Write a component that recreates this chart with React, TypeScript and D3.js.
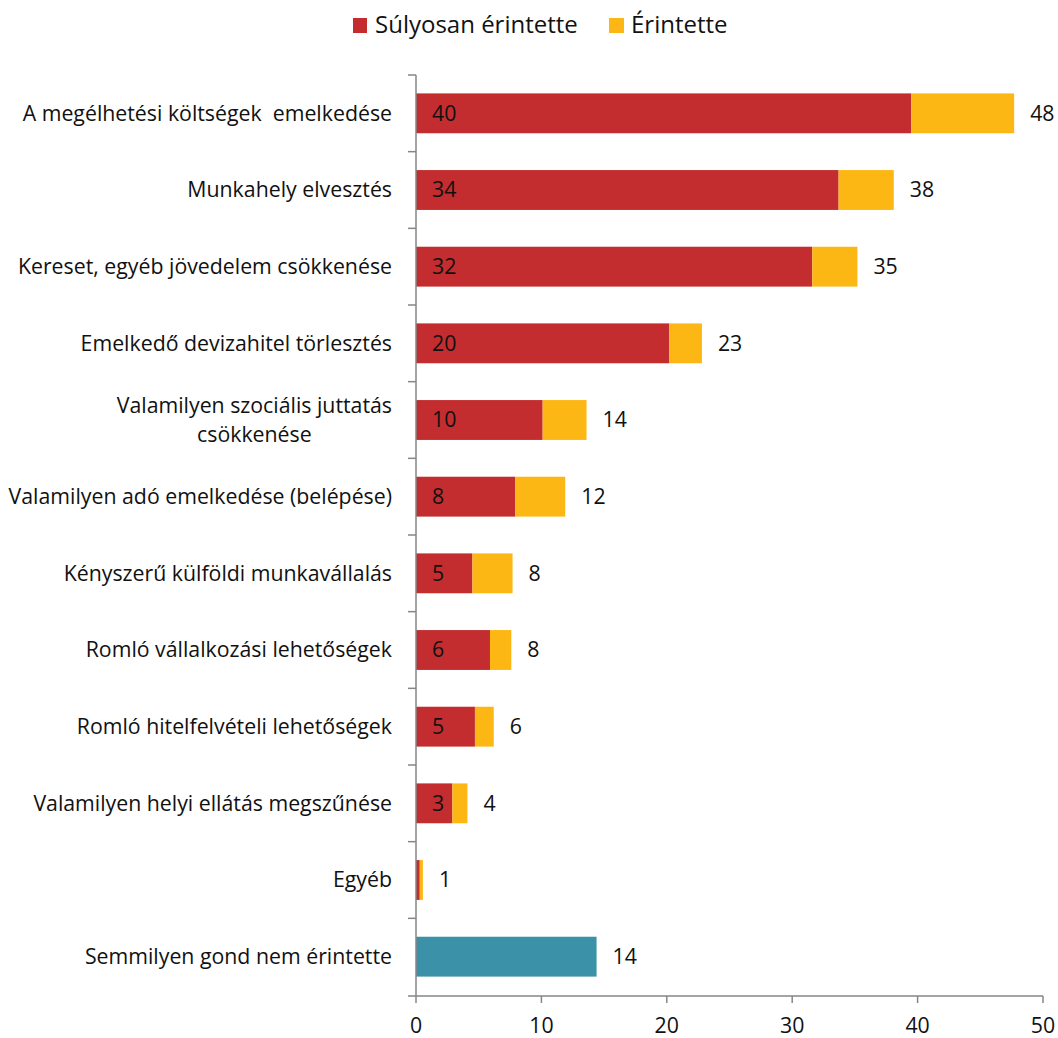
import React from "react";
import * as d3 from "d3";

const categories = [
  ["A megélhetési költségek  emelkedése"],
  ["Munkahely elvesztés"],
  ["Kereset, egyéb jövedelem csökkenése"],
  ["Emelkedő devizahitel törlesztés"],
  ["Valamilyen szociális juttatás", "csökkenése"],
  ["Valamilyen adó emelkedése (belépése)"],
  ["Kényszerű külföldi munkavállalás"],
  ["Romló vállalkozási lehetőségek"],
  ["Romló hitelfelvételi lehetőségek"],
  ["Valamilyen helyi ellátás megszűnése"],
  ["Egyéb"],
  ["Semmilyen gond nem érintette"],
];
const severe = [39.5, 33.7, 31.6, 20.2, 10.1, 7.9, 4.5, 5.9, 4.7, 2.9, 0.3, 0];
const affected = [8.2, 4.4, 3.6, 2.6, 3.5, 4.0, 3.2, 1.7, 1.5, 1.2, 0.25, 0];
const noneValue = [0, 0, 0, 0, 0, 0, 0, 0, 0, 0, 0, 14.4];
const severeLabels = ["40", "34", "32", "20", "10", "8", "5", "6", "5", "3", "", ""];
const totalLabels = ["48", "38", "35", "23", "14", "12", "8", "8", "6", "4", "1", "14"];
const xTicks = [0, 10, 20, 30, 40, 50];
const seriesNames = ["Súlyosan érintette", "Érintette"];

const RED = "#C32D2F";
const YELLOW = "#FDB714";
const TEAL = "#3A91A8";
const AXIS = "#868686";
const FONT = "'Open Sans', sans-serif";
const FS = 21.3;
const LFS = 24;

function measure(text: string): number {
  const c = document.createElement("canvas").getContext("2d");
  if (!c) return text.length * 10;
  c.font = `${FS}px 'Open Sans'`;
  return c.measureText(text).width;
}

export default function App() {
  const W = 1058, H = 1038;
  const x = d3.scaleLinear().domain([0, 50]).range([416, 1043]);
  const idx = categories.map((_, i) => i);
  const y = d3.scaleBand<number>().domain(idx).range([75, 995]).paddingInner(0.48).paddingOuter(0.24);
  const yBand = d3.scaleBand<number>().domain(idx).range([75, 995]);
  const bh = y.bandwidth();

  return (
    <svg width={W} height={H} style={{ position: "absolute", left: 0, top: 0, fontFamily: FONT }}>
      <rect width={W} height={H} fill="#fff" />
      {/* legend */}
      <rect x={353} y={18} width={14} height={15} fill={RED} />
      <text x={375} y={33} fontSize={LFS} fill="#111">{seriesNames[0]}</text>
      <rect x={609} y={18} width={15} height={15} fill={YELLOW} />
      <text x={631} y={33} fontSize={LFS} fill="#111">{seriesNames[1]}</text>

      {/* bars */}
      {idx.map((i) => {
        const y0 = y(i)!;
        const tot = severe[i] + affected[i] + noneValue[i];
        return (
          <g key={i}>
            {severe[i] > 0 && (
              <rect x={x(0)} y={y0} width={x(severe[i]) - x(0)} height={bh} fill={RED} />
            )}
            {affected[i] > 0 && (
              <rect x={x(severe[i])} y={y0} width={x(severe[i] + affected[i]) - x(severe[i])} height={bh} fill={YELLOW} />
            )}
            {noneValue[i] > 0 && (
              <rect x={x(0)} y={y0} width={x(noneValue[i]) - x(0)} height={bh} fill={TEAL} />
            )}
            {severeLabels[i] && (
              <text x={x(0) + 16} y={y0 + bh / 2} dy="0.35em" fontSize={FS} fill="#111">{severeLabels[i]}</text>
            )}
            <text x={x(tot) + 16} y={y0 + bh / 2} dy="0.35em" fontSize={FS} fill="#111">{totalLabels[i]}</text>
          </g>
        );
      })}

      {/* y axis */}
      <line x1={416} x2={416} y1={75} y2={996} stroke={AXIS} strokeWidth={1.5} />
      {idx.map((i) => (
        <line key={"t" + i} x1={408} x2={416} y1={yBand(i)!} y2={yBand(i)!} stroke={AXIS} strokeWidth={1.5} />
      ))}
      {/* category labels */}
      {idx.map((i) => {
        const lines = categories[i];
        const cy = y(i)! + bh / 2;
        if (lines.length === 1) {
          return (
            <text key={"c" + i} x={392} y={cy} dy="0.35em" textAnchor="end" fontSize={FS} fill="#111" style={{ whiteSpace: "pre" }}>{lines[0]}</text>
          );
        }
        const w0 = measure(lines[0]);
        const cx = 392 - w0 / 2;
        return (
          <text key={"c" + i} textAnchor="middle" fontSize={FS} fill="#111">
            {lines.map((l, k) => (
              <tspan key={k} x={cx} y={cy - 14.5 + k * 29} dy="0.35em">{l}</tspan>
            ))}
          </text>
        );
      })}

      {/* x axis */}
      <line x1={408} x2={1043} y1={996} y2={996} stroke={AXIS} strokeWidth={1.5} />
      {xTicks.map((t) => (
        <g key={"x" + t}>
          <line x1={x(t)} x2={x(t)} y1={996} y2={1003} stroke={AXIS} strokeWidth={1.5} />
          <text x={x(t)} y={1033} textAnchor="middle" fontSize={FS} fill="#111">{t}</text>
        </g>
      ))}
    </svg>
  );
}
